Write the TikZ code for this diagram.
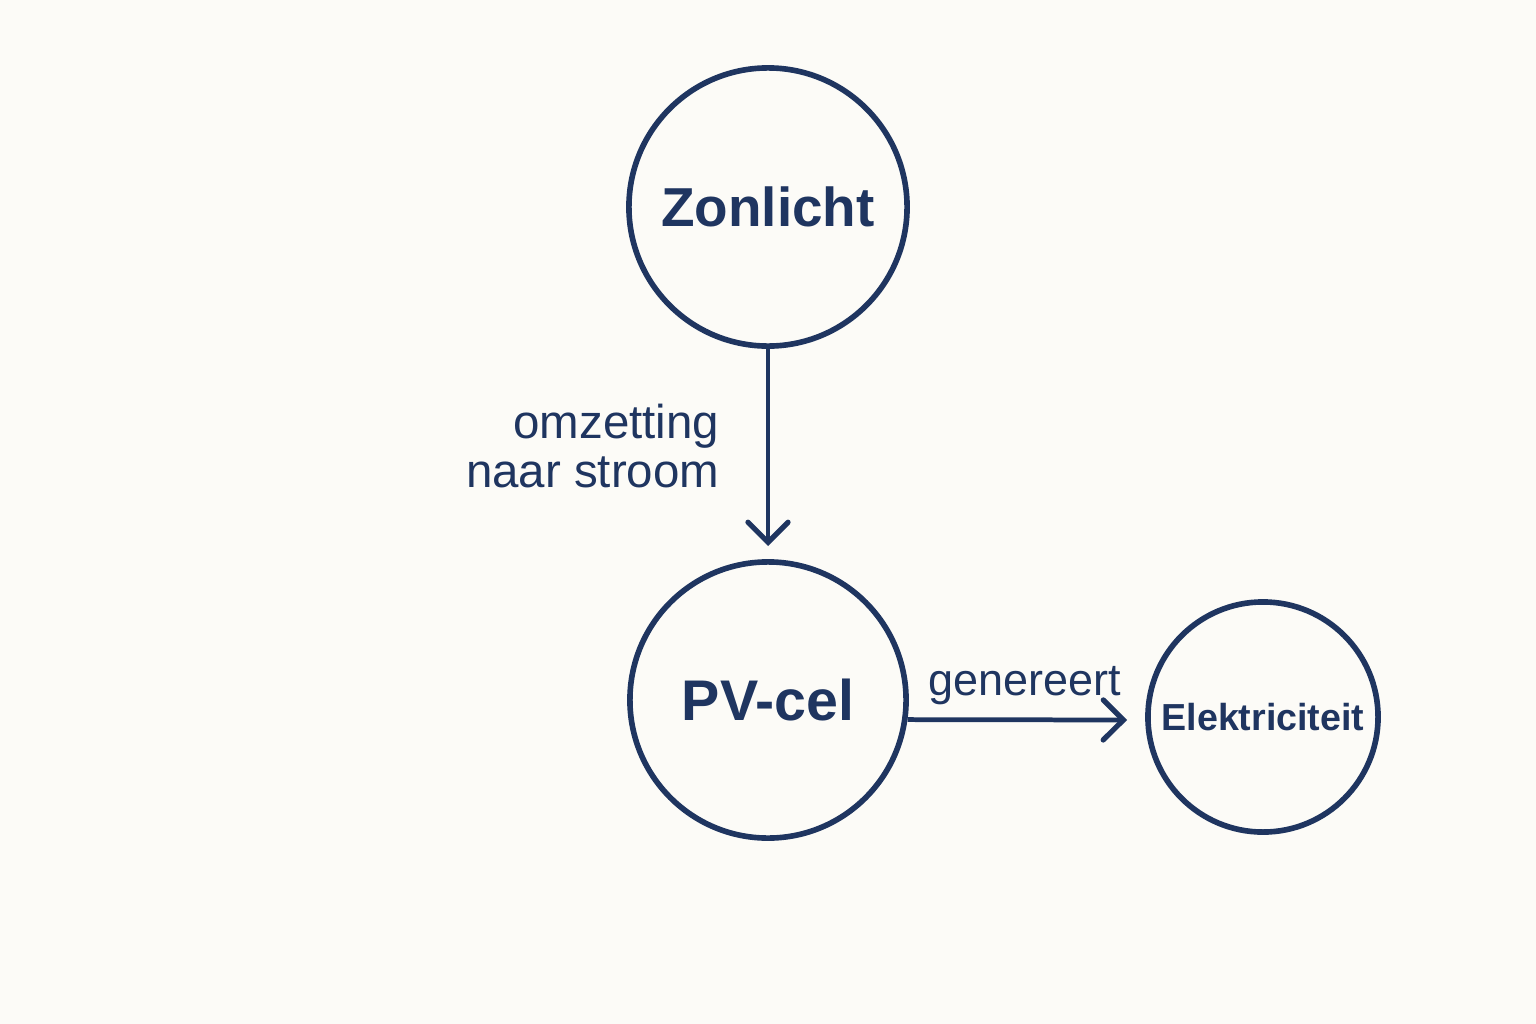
\documentclass[tikz,border=0pt]{standalone}
\usepackage{fontspec}
\setmainfont{Liberation Sans}
\usetikzlibrary{arrows.meta}
\definecolor{navy}{HTML}{1F3560}
\definecolor{bg}{HTML}{FCFBF7}
\begin{document}
\begin{tikzpicture}[x=0.01cm,y=-0.01cm,
  circ/.style={circle,draw=navy,line width=1.6pt,inner sep=0pt,text=navy},
  conn/.style={draw=navy,line width=1.35pt,-{Straight Barb[length=0.2cm,width=0.4cm,line width=1.5pt,line cap=round]}},
  lbl/.style={text=navy,inner sep=0pt}]
\fill[bg] (0,0) rectangle (1536,1024);
\useasboundingbox (0,0) rectangle (1536,1024);
\node[circ,minimum size=2.78cm,font=\bfseries\fontsize{15.6}{19}\selectfont] (zon) at (768,207) {Zonlicht};
\node[circ,minimum size=2.76cm,font=\bfseries\fontsize{16.3}{19}\selectfont] (pv) at (768,700) {PV-cel};
\node[circ,minimum size=2.30cm,font=\bfseries\fontsize{10.7}{13}\selectfont] (el) at (1263,717) {Elektriciteit};
\coordinate (t1) at (768,546);
\coordinate (t2) at (1127,720);
\draw[conn] (zon.south) -- (t1);
\draw[conn] (pv.-8.3) -- (t2);
\node[lbl,align=right,anchor=east,font=\fontsize{13.5}{14.2}\selectfont] (om) at (720,446) {omzetting\\naar stroom};
\node[lbl,anchor=base,font=\fontsize{12.8}{14}\selectfont] (gen) at (1025,695) {genereert};
\end{tikzpicture}
\end{document}
